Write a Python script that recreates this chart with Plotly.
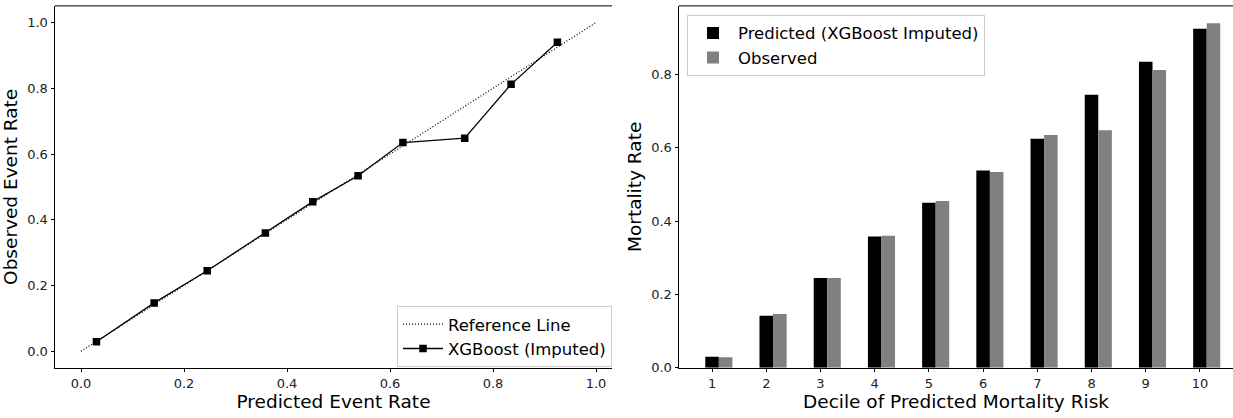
import plotly.graph_objects as go

# ---- data ----
predicted = [0.030, 0.142, 0.245, 0.358, 0.450, 0.538, 0.625, 0.745, 0.835, 0.925]
observed = [0.029, 0.147, 0.245, 0.360, 0.455, 0.534, 0.635, 0.648, 0.812, 0.940]
deciles = [1, 2, 3, 4, 5, 6, 7, 8, 9, 10]
ref_x = [0.0, 1.0]
ref_y = [0.0, 1.0]
bar_width = 0.25

W, H = 1233, 418
FONT = "DejaVu Sans"

def px_x(p):
    return p / W

def px_y(p):
    return 1 - p / H

fig = go.Figure()

# Left: calibration plot
fig.add_trace(go.Scatter(
    x=ref_x, y=ref_y, mode="lines", name="Reference Line",
    line=dict(color="black", width=1.2, dash="1px,2px"),
    xaxis="x", yaxis="y", legend="legend"))
fig.add_trace(go.Scatter(
    x=predicted, y=observed, mode="lines+markers", name="XGBoost (Imputed)",
    line=dict(color="black", width=1.3),
    marker=dict(symbol="square", size=7.5, color="black"),
    xaxis="x", yaxis="y", legend="legend"))

# Right: bar chart
fig.add_trace(go.Bar(
    x=deciles, y=predicted, width=bar_width, name="Predicted (XGBoost Imputed)",
    marker=dict(color="black", line=dict(width=0)),
    xaxis="x2", yaxis="y2", legend="legend2"))
fig.add_trace(go.Bar(
    x=[d + bar_width for d in deciles], y=observed, width=bar_width, name="Observed",
    marker=dict(color="#808080", line=dict(width=0)),
    xaxis="x2", yaxis="y2", legend="legend2"))

tickfont = dict(family=FONT, size=13, color="#222")
titlefont = dict(family=FONT, size=18.5, color="black")
axis_common = dict(showline=True, linecolor="black", linewidth=1, ticks="outside",
                   ticklen=3.5, tickwidth=1, tickcolor="black", showgrid=False,
                   zeroline=False, tickfont=tickfont)

ydom = [px_y(375), px_y(6)]

fig.update_layout(
    width=W, height=H,
    margin=dict(l=0, r=0, t=0, b=0),
    paper_bgcolor="white", plot_bgcolor="white",
    barmode="overlay",
    font=dict(family=FONT, color="black"),
    xaxis=dict(domain=[px_x(55), px_x(612)], range=[-0.0505, 1.031],
               tickvals=[0, 0.2, 0.4, 0.6, 0.8, 1.0], ticktext=["0.0", "0.2", "0.4", "0.6", "0.8", "1.0"],
               title=dict(text="Predicted Event Rate", font=titlefont, standoff=2),
               anchor="y", **axis_common),
    yaxis=dict(domain=ydom, range=[-0.0505, 1.0507],
               tickvals=[0, 0.2, 0.4, 0.6, 0.8, 1.0], ticktext=["0.0", "0.2", "0.4", "0.6", "0.8", "1.0"],
               title=dict(text="Observed Event Rate", font=titlefont, standoff=4),
               anchor="x", **axis_common),
    xaxis2=dict(domain=[px_x(679), 1.0], range=[0.39, 10.61],
                tickvals=deciles, ticktext=[str(d) for d in deciles],
                title=dict(text="Decile of Predicted Mortality Risk", font=titlefont, standoff=2),
                anchor="y2", **axis_common),
    yaxis2=dict(domain=ydom, range=[0, 0.987],
                tickvals=[0, 0.2, 0.4, 0.6, 0.8], ticktext=["0.0", "0.2", "0.4", "0.6", "0.8"],
                title=dict(text="Mortality Rate", font=titlefont, standoff=4),
                anchor="x2", **axis_common),
    legend=dict(x=px_x(612), y=px_y(374), xanchor="right", yanchor="bottom",
                bgcolor="rgba(255,255,255,0.85)", bordercolor="#cccccc", borderwidth=1,
                font=dict(family=FONT, size=16.5, color="black"), itemwidth=40,
                tracegroupgap=0),
    legend2=dict(x=px_x(687), y=px_y(15), xanchor="left", yanchor="top",
                 bgcolor="rgba(255,255,255,0.85)", bordercolor="#cccccc", borderwidth=1,
                 font=dict(family=FONT, size=16.5, color="black"), itemwidth=40,
                 tracegroupgap=0),
    shapes=[
        dict(type="line", xref="x domain", yref="y domain", x0=0, x1=1, y0=1, y1=1,
             line=dict(color="black", width=1)),
        dict(type="line", xref="x2 domain", yref="y2 domain", x0=0, x1=1, y0=1, y1=1,
             line=dict(color="black", width=1)),
    ],
)

fig.write_html("out.html")
